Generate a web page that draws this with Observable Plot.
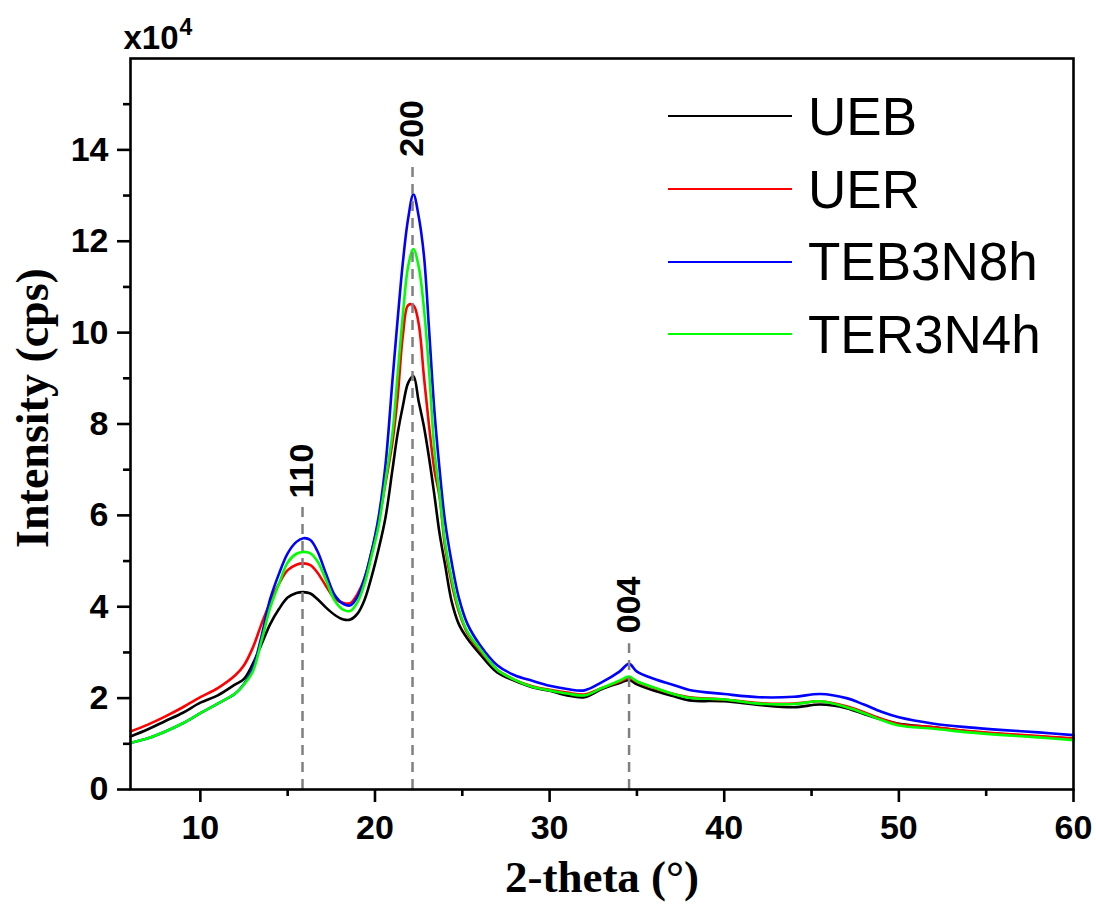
<!DOCTYPE html>
<html>
<head>
<meta charset="utf-8">
<script src="https://cdn.jsdelivr.net/npm/d3@7"></script>
<script src="https://cdn.jsdelivr.net/npm/@observablehq/plot@0.6"></script>
<style>
  html, body { margin: 0; padding: 0; background: #fff; }
  #wrap { position: relative; width: 1096px; height: 905px; }
  #wrap svg text { font-weight: bold; }
  .legend { position: absolute; left: 668px; top: 80px; font-family: "Liberation Sans", Arial, sans-serif; font-size: 53px; color: #000; }
  .legend .row { display: flex; align-items: center; height: 72.7px; }
  .legend .swatch { width: 124px; height: 0; border-top: 2.6px solid; margin-right: 16px; }
</style>
</head>
<body>
<div id="wrap"></div>
<script>
// 2-theta grid (degrees) shared by all diffractograms
const twoTheta = [6,7,8,9,10,11,12,12.5,13,13.5,14,14.5,15,15.5,15.9,16.3,16.7,17.2,17.7,18.2,18.6,
  19.0,19.4,19.8,20.2,20.6,21.0,21.3,21.6,21.9,22.2,22.5,22.8,23.1,23.4,23.7,24.0,24.4,24.8,25.3,
  26,27,28,29,30,31,32,33,34,34.55,35,36,37,38,40,42,44,45.5,47,48,49,50,52,54,56,58,60];

// Intensities in units of 10^4 cps
const ueb = [1.16,1.32,1.50,1.68,1.90,2.06,2.30,2.42,2.75,3.18,3.62,3.95,4.20,4.30,4.32,4.29,4.17,3.98,3.82,3.72,3.72,
  3.85,4.15,4.65,5.25,5.95,7.0,7.8,8.4,8.9,9.05,8.5,7.95,7.25,6.45,5.6,4.95,4.1,3.62,3.30,
  2.97,2.56,2.38,2.24,2.16,2.06,2.02,2.20,2.33,2.40,2.30,2.16,2.05,1.95,1.93,1.85,1.80,1.86,1.78,1.65,1.53,1.44,1.36,1.27,1.21,1.16,1.11];
const uer = [1.27,1.42,1.60,1.80,2.02,2.22,2.50,2.72,3.10,3.62,4.10,4.50,4.80,4.92,4.95,4.91,4.75,4.45,4.18,4.08,4.08,
  4.28,4.62,5.2,5.85,6.7,7.6,8.6,9.95,10.6,10.6,10.2,9.05,7.95,7.0,6.4,5.35,4.5,3.9,3.42,
  3.05,2.62,2.40,2.26,2.18,2.12,2.08,2.22,2.36,2.44,2.36,2.22,2.10,2.02,1.97,1.89,1.88,1.93,1.82,1.69,1.55,1.43,1.36,1.28,1.22,1.17,1.12];
const teb3n8h = [1.02,1.12,1.27,1.45,1.67,1.88,2.10,2.31,2.65,3.35,4.17,4.72,5.17,5.42,5.50,5.46,5.22,4.72,4.25,4.06,4.03,
  4.22,4.62,5.2,5.95,7.1,8.95,10.3,11.55,12.5,13.03,12.55,11.7,10.05,8.3,7.0,5.9,4.95,4.2,3.62,
  3.17,2.72,2.50,2.38,2.27,2.20,2.17,2.35,2.58,2.75,2.58,2.42,2.30,2.18,2.09,2.02,2.03,2.09,2.00,1.86,1.70,1.58,1.44,1.36,1.30,1.25,1.19];
const ter3n4h = [1.02,1.12,1.27,1.45,1.67,1.88,2.10,2.30,2.58,3.25,3.98,4.50,4.97,5.16,5.20,5.17,5.00,4.58,4.13,3.93,3.91,
  4.10,4.50,5.10,5.75,6.75,7.8,9.1,10.4,11.45,11.83,11.45,10.55,9.15,7.45,6.45,5.45,4.6,3.95,3.45,
  3.08,2.62,2.40,2.25,2.17,2.10,2.06,2.22,2.38,2.47,2.37,2.23,2.10,2.01,1.97,1.88,1.87,1.93,1.80,1.67,1.52,1.40,1.33,1.25,1.19,1.14,1.08];

const seriesNames = ["UEB", "UER", "TEB3N8h", "TER3N4h"];
const seriesValues = [ueb, uer, teb3n8h, ter3n4h];
const seriesColors = ["#000000", "#ff0000", "#0000ff", "#00ff00"];

// Cellulose reflections: position, Miller index, marker height, label height
const peakPos = [15.85, 22.15, 34.55];
const peakIndex = ["110", "200", "004"];
const peakLineTop = [6.26, 13.72, 3.19];
const peakLabelAt = [6.97, 14.47, 4.04];

// Axis ticks
const xMajor = [10, 20, 30, 40, 50, 60];
const xMinor = [15, 25, 35, 45, 55];
const yMajor = [0, 2, 4, 6, 8, 10, 12, 14];
const yMinor = [1, 3, 5, 7, 9, 11, 13, 15];

const rows = seriesNames.flatMap((name, i) =>
  twoTheta.map((t, j) => ({theta: t, intensity: seriesValues[i][j], name})));
const peaks = peakPos.map((p, i) => ({pos: p, index: peakIndex[i], top: peakLineTop[i], labelY: peakLabelAt[i]}));

const sans = "Liberation Sans, Arial, sans-serif";
const serif = "Liberation Serif, Times New Roman, serif";

const chart = Plot.plot({
  width: 1096,
  height: 905,
  marginLeft: 130,
  marginRight: 23,
  marginTop: 58,
  marginBottom: 116,
  x: {domain: [6, 60]},
  y: {domain: [0, 16]},
  color: {domain: seriesNames, range: seriesColors},
  style: {background: "#fff", color: "#000", fontFamily: sans, overflow: "visible"},
  marks: [
    Plot.line(rows, {x: "theta", y: "intensity", z: "name", stroke: "name", strokeWidth: 2.6, curve: "catmull-rom"}),
    Plot.ruleX(peaks, {x: "pos", y1: 0, y2: "top", stroke: "#808080", strokeWidth: 2.5, strokeDasharray: "10,7"}),
    Plot.text(peaks, {x: "pos", y: "labelY", text: "index", rotate: -90, fontSize: 34, fontFamily: sans, fill: "#000"}),
    Plot.frame({stroke: "#000", strokeWidth: 2.6}),
    Plot.axisX({ticks: xMajor, tickSize: 13, tickPadding: 12, fontSize: 34, fontFamily: sans, strokeWidth: 2.6, label: null}),
    Plot.axisX({ticks: xMinor, tickSize: 7, tickFormat: () => "", strokeWidth: 2.6, label: null}),
    Plot.axisY({ticks: yMajor, tickSize: 13, tickPadding: 9, fontSize: 34, fontFamily: sans, strokeWidth: 2.6, label: null}),
    Plot.axisY({ticks: yMinor, tickSize: 7, tickFormat: () => "", strokeWidth: 2.6, label: null}),
    Plot.text(["Intensity (cps)"], {frameAnchor: "left", text: d => d, rotate: -90, textAnchor: "middle", lineAnchor: "bottom", dx: -83, dy: -16, fontSize: 46, fontFamily: serif, fill: "#000"}),
    Plot.text(["2-theta (°)"], {frameAnchor: "bottom", text: d => d, textAnchor: "middle", lineAnchor: "bottom", dy: 102, fontSize: 45, fontFamily: serif, fill: "#000"}),
    Plot.text(["x10"], {frameAnchor: "top-left", text: d => d, textAnchor: "start", lineAnchor: "bottom", dx: -7, dy: -10, fontSize: 33, fontFamily: sans, fill: "#000"}),
    Plot.text(["4"], {frameAnchor: "top-left", text: d => d, textAnchor: "start", lineAnchor: "bottom", dx: 49, dy: -24, fontSize: 23, fontFamily: sans, fill: "#000"})
  ]
});

const wrap = document.getElementById("wrap");
wrap.appendChild(chart);

// Legend
const legend = document.createElement("div");
legend.className = "legend";
seriesNames.forEach((name, i) => {
  const row = document.createElement("div");
  row.className = "row";
  const sw = document.createElement("span");
  sw.className = "swatch";
  sw.style.borderTopColor = seriesColors[i];
  const label = document.createElement("span");
  label.textContent = name;
  row.appendChild(sw);
  row.appendChild(label);
  legend.appendChild(row);
});
wrap.appendChild(legend);
</script>
</body>
</html>
